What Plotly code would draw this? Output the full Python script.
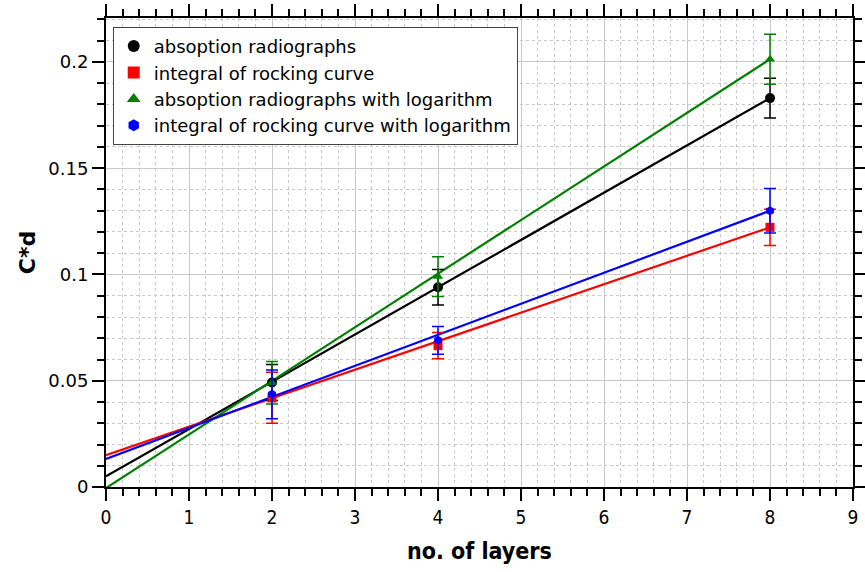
import plotly.graph_objects as go

layers = [2, 4, 8]

abs_rad = [0.0492, 0.0940, 0.1830]
abs_rad_err = [0.0085, 0.0083, 0.0093]

rock_int = [0.0420, 0.0665, 0.1222]
rock_int_err = [0.0120, 0.0062, 0.0085]

abs_rad_log = [0.0490, 0.0990, 0.2013]
abs_rad_log_err = [0.0100, 0.0093, 0.0118]

rock_int_log = [0.0436, 0.0690, 0.1300]
rock_int_log_err = [0.0115, 0.0065, 0.0105]

# linear fit lines (endpoint values at x=0 and x=8)
fit_x = [0, 8]
fit_abs_rad = [0.0050, 0.1830]
fit_rock_int = [0.0150, 0.1222]
fit_abs_rad_log = [-0.0005, 0.2013]
fit_rock_int_log = [0.0132, 0.1300]

names = ["absoption radiographs", "integral of rocking curve",
         "absoption radiographs with logarithm", "integral of rocking curve with logarithm"]
colors = ["#000000", "#ff0000", "#008000", "#0000ff"]
symbols = ["circle", "square", "triangle-up", "hexagon"]
sizes = [10, 9, 9, 9]

series = [abs_rad, rock_int, abs_rad_log, rock_int_log]
errors = [abs_rad_err, rock_int_err, abs_rad_log_err, rock_int_log_err]
fits = [fit_abs_rad, fit_rock_int, fit_abs_rad_log, fit_rock_int_log]

fig = go.Figure()

# fit lines
for f, c in zip(fits, colors):
    fig.add_trace(go.Scatter(x=fit_x, y=f, mode="lines",
                             line=dict(color=c, width=2.2), showlegend=False,
                             hoverinfo="skip"))

# data with error bars
for n, s, e, c, sym, sz in zip(names, series, errors, colors, symbols, sizes):
    fig.add_trace(go.Scatter(
        x=layers, y=s, mode="markers", name=n,
        marker=dict(color=c, symbol=sym, size=sz),
        error_y=dict(type="data", array=e, visible=True, color=c,
                     thickness=1.5, width=6)))

axis_common = dict(
    showline=True, linecolor="black", linewidth=2, mirror="allticks",
    ticks="outside", ticklen=12, tickwidth=1.5, tickcolor="black",
    showgrid=True, gridcolor="#c8c8c8", gridwidth=1,
    zeroline=False, automargin=False,
)

fig.update_xaxes(
    range=[0, 9], dtick=1, **axis_common,
    tickfont=dict(family="DejaVu Sans Condensed, DejaVu Sans", size=19, color="black"),
    title=dict(text="<b>no. of layers</b>",
               font=dict(family="DejaVu Sans Condensed, DejaVu Sans", size=23, color="black"),
               standoff=16),
    minor=dict(dtick=0.2, ticks="outside", ticklen=7, tickcolor="black",
               showgrid=True, gridcolor="#c8c8c8", griddash="3px,3px", gridwidth=1),
)
fig.update_yaxes(
    range=[0, 0.2207], tickvals=[0, 0.05, 0.1, 0.15, 0.2],
    ticktext=["0", "0.05", "0.1", "0.15", "0.2"], **axis_common,
    tickfont=dict(family="DejaVu Sans", size=18, color="black"),
    title=dict(text="<b>C*d</b>", font=dict(family="DejaVu Sans", size=22, color="black"),
               standoff=7),
    minor=dict(dtick=0.01, ticks="outside", ticklen=7, tickcolor="black",
               showgrid=True, gridcolor="#c8c8c8", griddash="3px,3px", gridwidth=1),
)

fig.update_layout(
    width=865, height=572,
    margin=dict(l=106, r=12, t=18, b=85, autoexpand=False),
    plot_bgcolor="white", paper_bgcolor="white",
    legend=dict(x=0.009, y=0.981, xanchor="left", yanchor="top",
                bgcolor="white", bordercolor="#444444", borderwidth=1,
                font=dict(family="DejaVu Sans", size=18, color="black"),
                itemsizing="constant", tracegroupgap=0),
    showlegend=True,
)

fig.write_html("out.html")
